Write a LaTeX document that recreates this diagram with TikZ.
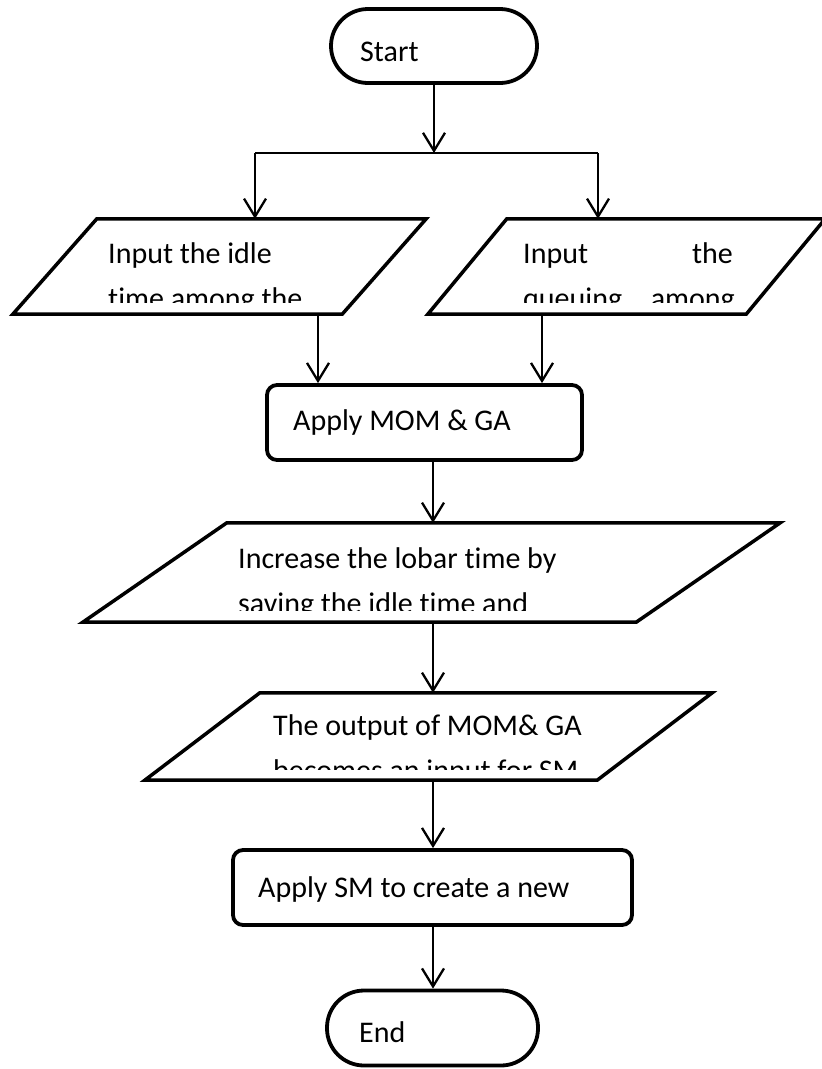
\documentclass[tikz,border=0pt]{standalone}
\usepackage{fontspec}
\setmainfont{Carlito}[Ligatures=NoCommon]
\usetikzlibrary{arrows.meta}
\tikzset{
  boxnode/.style={draw, line width=3.8pt, inner sep=0pt, rounded corners=10pt},
  termnode/.style={draw, line width=3.8pt, inner sep=0pt, rounded corners=37pt},
  paranode/.style={inner sep=0pt, draw=none},
  paraline/.style={line width=3.5pt, line join=miter},
  txt/.style={inner sep=0pt, font=\fontsize{30}{36}\selectfont},
  conn/.style={line width=2.6pt},
  arr/.style={line width=2.3pt, -{Straight Barb[length=18pt,width=22pt]}},
}
\begin{document}
\begin{tikzpicture}[x=1pt,y=-1pt]
\useasboundingbox (0,0) rectangle (822,1069);

% Start
\node[termnode, minimum width=206pt, minimum height=74pt] (start) at (434,46) {};
\node[txt, anchor=base west] (tstart) at (360,61) {Start};

% split
\coordinate (sp) at (434,153);
\coordinate (sl) at (255,153);
\coordinate (sr) at (598,153);
\draw[arr] (start.south) -- (sp);
\draw[conn] (sl) -- (sr);

% left parallelogram
\node[paranode, minimum width=413pt, minimum height=95pt] (p1) at (219.5,266.5) {};
\draw[paraline] (p1.south west) -- ([xshift=-84pt]p1.south east) -- (p1.north east) -- ([xshift=84pt]p1.north west) -- cycle;
\node[txt, anchor=base west] (t1a) at (108,263) {Input the idle};
\begin{scope}
  \clip (0,219) rectangle (822,302);
  \node[txt, anchor=base west] (t1b) at (108,308) {time among the};
\end{scope}

% right parallelogram
\node[paranode, minimum width=397pt, minimum height=95pt] (p2) at (626.5,266.5) {};
\draw[paraline] (p2.south west) -- ([xshift=-79pt]p2.south east) -- (p2.north east) -- ([xshift=79pt]p2.north west) -- cycle;
\node[txt, anchor=base west] (t2a) at (523,263) {Input};
\node[txt, anchor=base east] (t2b) at (733,263) {the};
\begin{scope}
  \clip (0,219) rectangle (822,302);
  \node[txt, anchor=base west] (t2c) at (523,308) {queuing};
  \node[txt, anchor=base east] (t2d) at (735,308) {among};
\end{scope}

\draw[arr] (sl) -- (sl |- p1.north);
\draw[arr] (sr) -- (sr |- p2.north);

% Apply MOM & GA
\node[boxnode, minimum width=315pt, minimum height=75pt] (b1) at (424.5,422.5) {};
\node[txt, anchor=base west] (tb1) at (293,430) {Apply MOM \& GA};

\coordinate (c1) at (318,0);
\coordinate (c2) at (542,0);
\draw[arr] (p1.south -| c1) -- (b1.north -| c1);
\draw[arr] (p2.south -| c2) -- (b1.north -| c2);

% Increase ...
\node[paranode, minimum width=697pt, minimum height=99pt] (p3) at (431.5,572.5) {};
\draw[paraline] (p3.south west) -- ([xshift=-144pt]p3.south east) -- (p3.north east) -- ([xshift=144pt]p3.north west) -- cycle;
\node[txt, anchor=base west] (t3a) at (238,568) {Increase the lobar time by};
\begin{scope}
  \clip (0,523) rectangle (822,610);
  \node[txt, anchor=base west] (t3b) at (238,613) {saving the idle time and};
\end{scope}

\coordinate (c0) at (433,0);
\draw[arr] (b1.south -| c0) -- (p3.north -| c0);

% The output ...
\node[paranode, minimum width=567pt, minimum height=87pt] (p4) at (428.5,736.5) {};
\draw[paraline] (p4.south west) -- ([xshift=-115pt]p4.south east) -- (p4.north east) -- ([xshift=115pt]p4.north west) -- cycle;
\node[txt, anchor=base west] (t4a) at (273,735) {The output of MOM\& GA};
\begin{scope}
  \clip (0,693) rectangle (822,769);
  \node[txt, anchor=base west] (t4b) at (273,780) {becomes an input for SM};
\end{scope}

\draw[arr] (p3.south -| c0) -- (p4.north -| c0);

% Apply SM
\node[boxnode, minimum width=399pt, minimum height=75pt] (b2) at (432.5,887.5) {};
\node[txt, anchor=base west] (tb2) at (258,897) {Apply SM to create a new};

\draw[arr] (p4.south -| c0) -- (b2.north -| c0);

% End
\node[termnode, minimum width=211pt, minimum height=75pt] (end) at (432.5,1028) {};
\node[txt, anchor=base west] (tend) at (359,1042) {End};

\draw[arr] (b2.south -| c0) -- (end.north -| c0);
\end{tikzpicture}
\end{document}
